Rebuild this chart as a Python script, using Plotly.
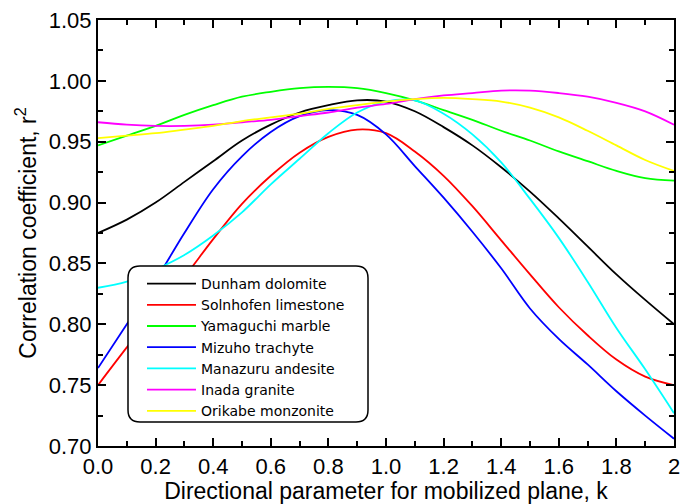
import plotly.graph_objects as go

k = [0.0, 0.1, 0.2, 0.3, 0.4, 0.5, 0.6, 0.7, 0.8, 0.9, 1.0,
     1.1, 1.2, 1.3, 1.4, 1.5, 1.6, 1.7, 1.8, 1.9, 2.0]

dunham = [0.875, 0.886, 0.900, 0.917, 0.934, 0.951, 0.964, 0.974, 0.980, 0.984, 0.983,
          0.975, 0.962, 0.947, 0.929, 0.909, 0.887, 0.864, 0.841, 0.820, 0.800]
solnhofen = [0.750, 0.781, 0.811, 0.839, 0.870, 0.899, 0.922, 0.941, 0.954, 0.960, 0.957,
             0.942, 0.922, 0.897, 0.869, 0.841, 0.814, 0.791, 0.771, 0.757, 0.750]
yamaguchi = [0.947, 0.955, 0.963, 0.972, 0.980, 0.987, 0.991, 0.994, 0.995, 0.994, 0.990,
             0.984, 0.976, 0.968, 0.959, 0.951, 0.942, 0.934, 0.926, 0.920, 0.918]
mizuho = [0.764, 0.800, 0.836, 0.875, 0.911, 0.938, 0.958, 0.971, 0.976, 0.972, 0.956,
          0.930, 0.904, 0.876, 0.846, 0.813, 0.788, 0.767, 0.745, 0.725, 0.706]
manazuru = [0.830, 0.835, 0.845, 0.857, 0.873, 0.892, 0.915, 0.936, 0.957, 0.974, 0.983,
            0.984, 0.973, 0.956, 0.933, 0.903, 0.871, 0.835, 0.797, 0.763, 0.727]
inada = [0.966, 0.964, 0.963, 0.963, 0.964, 0.966, 0.968, 0.971, 0.974, 0.978, 0.981,
         0.985, 0.988, 0.990, 0.992, 0.992, 0.990, 0.987, 0.982, 0.975, 0.964]
orikabe = [0.953, 0.955, 0.957, 0.960, 0.963, 0.967, 0.970, 0.973, 0.977, 0.980, 0.983,
           0.985, 0.986, 0.985, 0.983, 0.978, 0.970, 0.959, 0.947, 0.935, 0.926]

series_names = ["Dunham dolomite", "Solnhofen limestone", "Yamaguchi marble",
                "Mizuho trachyte", "Manazuru andesite", "Inada granite", "Orikabe monzonite"]
series_values = [dunham, solnhofen, yamaguchi, mizuho, manazuru, inada, orikabe]
series_colors = ["#000000", "#FF0000", "#00FF00", "#0000FF", "#00FFFF", "#FF00FF", "#FFFF00"]

x_tickvals = [0.0, 0.2, 0.4, 0.6, 0.8, 1.0, 1.2, 1.4, 1.6, 1.8, 2.0]
x_ticktext = ["0.0", "0.2", "0.4", "0.6", "0.8", "1.0", "1.2", "1.4", "1.6", "1.8", "2"]
y_tickvals = [0.70, 0.75, 0.80, 0.85, 0.90, 0.95, 1.00, 1.05]
y_ticktext = ["0.70", "0.75", "0.80", "0.85", "0.90", "0.95", "1.00", "1.05"]

fig = go.Figure()
for name, vals, col in zip(series_names, series_values, series_colors):
    fig.add_trace(go.Scatter(x=k, y=vals, name=name, mode="lines",
                             line=dict(color=col, width=1.8, shape="spline")))

L, R, T, B = 98, 7, 20, 58
W, H = 681, 504
pw, ph = W - L - R, H - T - B


def px2paper(px, py):
    return (px - L) / pw, (H - B - py) / ph


x0, y1 = px2paper(128, 266)
x1, y0 = px2paper(368, 422)
rx, ry = 12 / pw, 12 / ph
path = (f"M{x0+rx},{y1} L{x1-rx},{y1} Q{x1},{y1} {x1},{y1-ry} "
        f"L{x1},{y0+ry} Q{x1},{y0} {x1-rx},{y0} L{x0+rx},{y0} "
        f"Q{x0},{y0} {x0},{y0+ry} L{x0},{y1-ry} Q{x0},{y1} {x0+rx},{y1} Z")
fig.add_shape(type="path", path=path, xref="paper", yref="paper",
              fillcolor="white", line=dict(color="black", width=1.5), layer="above")

axis_font = dict(family="Liberation Sans, Arial, sans-serif", size=22, color="black")
title_font = dict(family="Liberation Sans, Arial, sans-serif", size=23, color="black")

common = dict(showline=True, linecolor="black", linewidth=2, mirror="allticks",
              ticks="inside", ticklen=8, tickwidth=1.5, tickcolor="black",
              showgrid=False, zeroline=False, tickfont=axis_font, automargin=False,
              ticklabeloverflow="allow")

fig.update_xaxes(range=[0, 2], tickvals=x_tickvals, ticktext=x_ticktext,
                 minor=dict(dtick=0.1, ticks="inside", ticklen=5, tickwidth=1.5,
                            tickcolor="black", showgrid=False),
                 title=dict(text="Directional parameter for mobilized plane, k",
                            font=title_font, standoff=2),
                 **common)
fig.update_yaxes(range=[0.70, 1.05], tickvals=y_tickvals, ticktext=y_ticktext,
                 minor=dict(dtick=0.025, tick0=0.70, ticks="inside", ticklen=5, tickwidth=1.5,
                            tickcolor="black", showgrid=False),
                 title=dict(text="Correlation coefficient, r<sup>2</sup>",
                            font=title_font, standoff=6),
                 **common)

lx, ly = px2paper(142, 268)
fig.update_layout(
    width=W, height=H,
    margin=dict(l=L, r=R, t=T, b=B, autoexpand=False),
    plot_bgcolor="white", paper_bgcolor="white",
    legend=dict(x=lx, y=ly, xanchor="left", yanchor="top",
                bgcolor="rgba(0,0,0,0)", borderwidth=0,
                font=dict(family="DejaVu Sans, sans-serif", size=14, color="black"),
                itemwidth=49, tracegroupgap=0),
    showlegend=True,
)

fig.write_html("out.html", config={"displayModeBar": False},
               post_script="document.body.style.margin='0';")
